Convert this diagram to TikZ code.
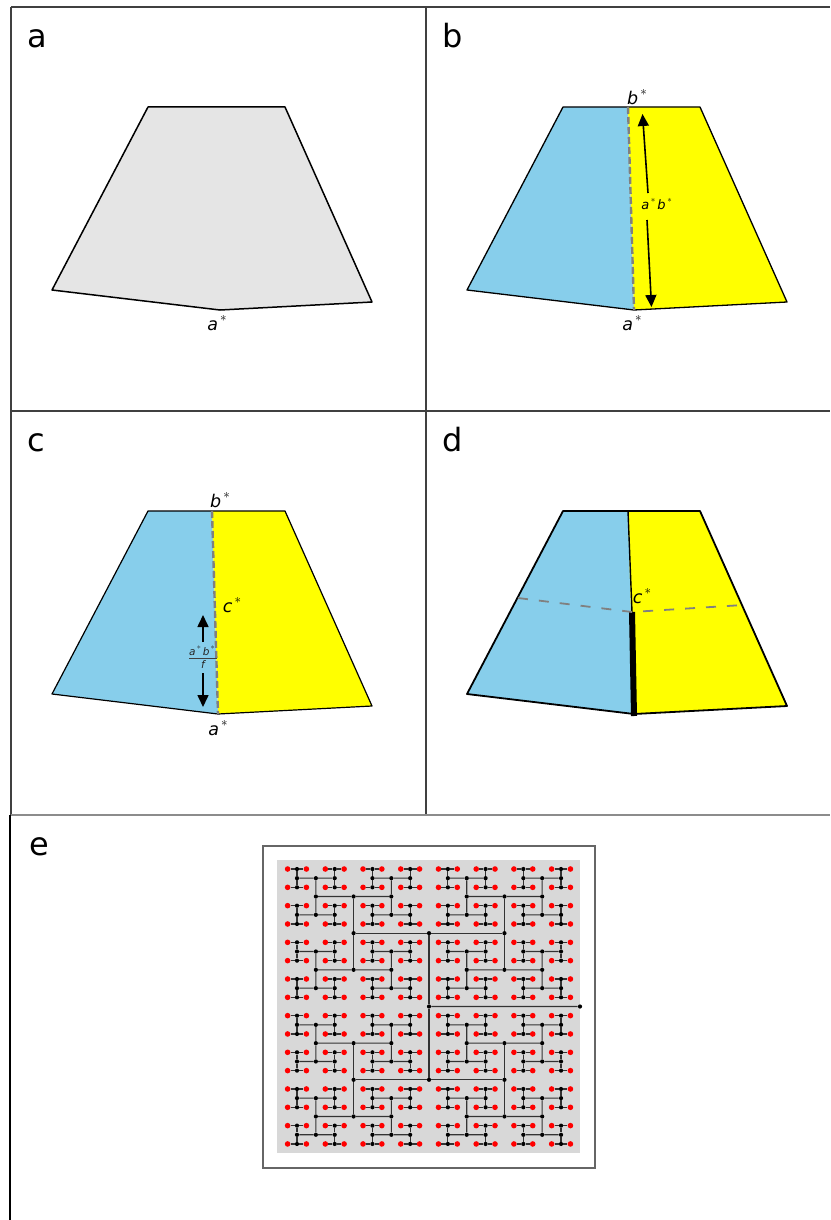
\documentclass[tikz,border=0pt]{standalone}
\usepackage{fontspec}
\setmainfont{DejaVu Sans}
\usetikzlibrary{calc,arrows.meta}
\definecolor{skyb}{HTML}{87CEEB}
\definecolor{yel}{HTML}{FFFF00}
\definecolor{greyf}{HTML}{E5E5E5}
\definecolor{htbg}{HTML}{D8D8D8}
\definecolor{dashg}{HTML}{808080}
\newcommand{\stl}[1]{{\itshape #1}\kern.12em\raisebox{.55em}{\scalebox{.75}{$*$}}}
\tikzset{
  x=1pt,y=-1pt,
  frame/.style={line width=1.3pt,black!75},
  poly/.style={draw=black,line width=1.5pt,line join=round},
  divider/.style={draw=dashg,line width=2.4pt,dash pattern=on 7pt off 3pt},
  dash2/.style={draw=dashg,line width=1.8pt,dash pattern=on 10pt off 11pt},
  arr/.style={-{Stealth[length=12pt,width=11pt,inset=0pt]},line width=1.6pt,black},
  panellab/.style={font=\fontsize{32}{33}\selectfont,inner sep=0pt,text=black,anchor=base west},
  mlab/.style={font=\fontsize{17.5}{18}\selectfont,inner sep=0pt,text=black},
  smlab/.style={font=\fontsize{13}{14}\selectfont,inner sep=0pt,text=black},
  frlab/.style={font=\fontsize{10.5}{11}\selectfont,inner sep=0pt,text=black!85},
  rdot/.style={circle,fill=red,inner sep=0pt,minimum size=5.6pt},
  bdot/.style={circle,fill=black,inner sep=0pt,minimum size=4.2pt},
  tree/.style={draw=black!80,line width=1.1pt},
}
\begin{document}
\begin{tikzpicture}
\useasboundingbox (0,0) rectangle (830,1220);
% frames
\coordinate (f1) at (11,7); \coordinate (f2) at (830,7); \coordinate (f3) at (11,815);
\coordinate (f4) at (426,7); \coordinate (f5) at (426,815);
\coordinate (f6) at (11,411); \coordinate (f7) at (830,411);
\coordinate (f8) at (11,815); \coordinate (f9) at (830,815);
\coordinate (f10) at (10,815); \coordinate (f11) at (10,1220);
\draw[frame] (f1)--(f2);
\draw[frame] (f1)--(f3);
\draw[frame] (f4)--(f5);
\draw[frame] (f6)--(f7);
\draw[frame,black!45] (f8)--(f9);
\draw[frame,black] (f10)--(f11);
\node[panellab] at (27,47.5) {a};
\node[panellab] at (442.5,47.5) {b};
\node[panellab] at (27,451.7) {c};
\node[panellab] at (442.5,451.7) {d};
\node[panellab] at (29,855.5) {e};
% panel a
\draw[poly,fill=greyf] (148,107)--(285,107)--(372,302)--(220,310)--(52,290)--cycle;
\node[mlab] at (217,323) {\stl{a}};
% panel b
\coordinate (bt) at (628,107); \coordinate (bb) at (634,310);
\fill[skyb] (563,107)--(bt)--(bb)--(467,290)--cycle;
\fill[yel] (bt)--(700,107)--(787,302)--(bb)--cycle;
\draw[poly,line width=1.3pt] (563,107)--(700,107)--(787,302)--(634,310)--(467,290)--cycle;
\draw[divider] (bt)--(bb);
\node[mlab] at (637,97) {\stl{b}};
\node[mlab] at (632,323) {\stl{a}};
\node[smlab] (bl) at (656.5,204) {\stl{a}\,\stl{b}};
\coordinate (bu) at (642.5,114); \coordinate (bd) at (651.5,307);
\draw[arr] (648,193)--(bu);
\draw[arr] (647,220)--(bd);
% panel c
\coordinate (ct) at (212,511); \coordinate (cb) at (218,714);
\fill[skyb] (148,511)--(ct)--(cb)--(52,694)--cycle;
\fill[yel] (ct)--(285,511)--(372,706)--(cb)--cycle;
\draw[poly,line width=1.2pt] (148,511)--(285,511)--(372,706)--(218,714)--(52,694)--cycle;
\draw[divider] (ct)--(cb);
\node[mlab] at (220,500) {\stl{b}};
\node[mlab] at (218,728) {\stl{a}};
\node[mlab] at (232,605) {\stl{c}};
\node[frlab] at (202,650.5) {\stl{a}\,\stl{b}};
\node[frlab] at (203,665) {\itshape f};
\draw[line width=1pt,black!75] (189,658)--(217,658);
\coordinate (cu) at (203,615); \coordinate (cd) at (203,707);
\draw[arr] (203,642)--(cu);
\draw[arr] (203,673)--(cd);
% panel d
\coordinate (dt) at (628,511); \coordinate (db) at (634,714); \coordinate (dm) at (632,612);
\fill[skyb] (563,511)--(dt)--(db)--(467,694)--cycle;
\fill[yel] (dt)--(700,511)--(787,706)--(db)--cycle;
\draw[poly,line width=1.8pt] (563,511)--(700,511)--(787,706)--(634,714)--(467,694)--cycle;
\draw[black,line width=1.4pt] (dt)--(dm);
\draw[black,line width=6pt] (dm)--(634,716);
\draw[dash2] (518,598)--(dm)--(743,605);
\node[mlab] at (642,596) {\stl{c}};
% panel e
\draw[draw=black!60,line width=1.3pt] (263,846) rectangle (595,1168);
\fill[htbg] (277,860) rectangle (580,1153);
% level 0 : pairs with red ends
\foreach \c in {0,...,7}{
  \foreach \j in {0,...,15}{
    \node[bdot] (p0-\c-\j) at ({297+37.72*\c},{869+18.33*\j}) {};
    \node[rdot] (rl-\c-\j) at ({297+37.72*\c-9.4},{869+18.33*\j}) {};
    \node[rdot] (rr-\c-\j) at ({297+37.72*\c+9.4},{869+18.33*\j}) {};
    \draw[tree] (rl-\c-\j)--(p0-\c-\j)--(rr-\c-\j);
  }
}
% vertical merges (odd level) and horizontal merges (even level)
\foreach \lev/\prev/\cn/\kn/\dir in {1/0/7/7/v,2/1/3/7/h,3/2/3/3/v,4/3/1/3/h,5/4/1/1/v,6/5/0/1/h,7/6/0/0/v}{
  \foreach \c in {0,...,\cn}{
    \foreach \k in {0,...,\kn}{
      \if\dir v
        \pgfmathtruncatemacro\ka{2*\k}\pgfmathtruncatemacro\kb{2*\k+1}
        \def\na{p\prev-\c-\ka}\def\nb{p\prev-\c-\kb}
      \else
        \pgfmathtruncatemacro\ca{2*\c}\pgfmathtruncatemacro\cb{2*\c+1}
        \def\na{p\prev-\ca-\k}\def\nb{p\prev-\cb-\k}
      \fi
      \node[bdot] (p\lev-\c-\k) at ($(\na)!.5!(\nb)$) {};
      \draw[tree] (\na)--(p\lev-\c-\k)--(\nb);
    }
  }
}
\node[bdot] (troot) at (580,1006.5) {};
\draw[tree] (p7-0-0)--(troot);
\end{tikzpicture}
\end{document}
